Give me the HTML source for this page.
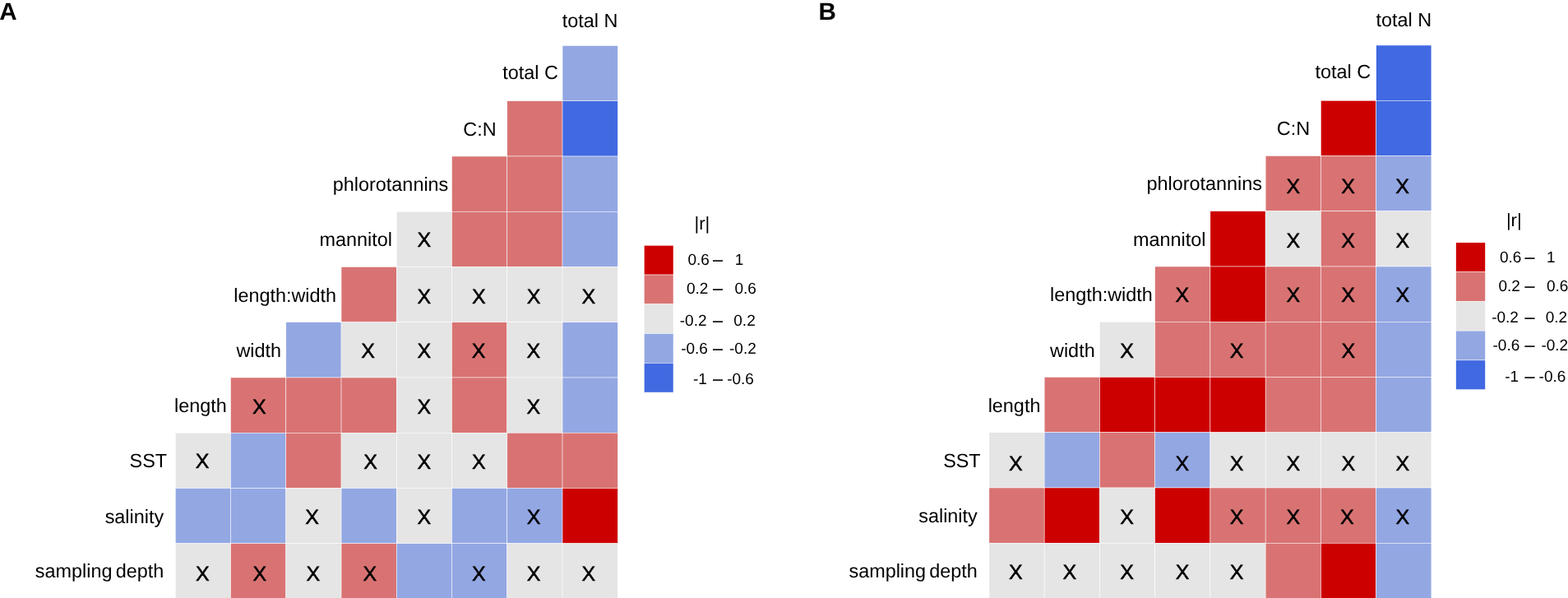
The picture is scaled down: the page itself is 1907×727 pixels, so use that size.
<!DOCTYPE html>
<html><head><meta charset="utf-8"><title>Correlation heatmaps</title>
<style>
html,body{margin:0;padding:0;background:#fff;overflow:hidden;}
body{width:1907px;height:727px;}
svg{display:block;}
text{font-family:"Liberation Sans",Arial,Helvetica,sans-serif;text-rendering:geometricPrecision;}
</style></head><body>
<svg width="1907" height="727" viewBox="0 0 1907 727">
<rect width="1907" height="727" fill="#fff"/>
<g font-family="Liberation Sans, Arial, Helvetica, sans-serif" fill="#000">
<g>
<rect x="684.05" y="55.5" width="67.25" height="67.25" fill="#93A7E3" stroke="#fff" stroke-width="0.5"/>
<rect x="616.8" y="122.75" width="67.25" height="67.25" fill="#D97373" stroke="#fff" stroke-width="0.5"/>
<rect x="684.05" y="122.75" width="67.25" height="67.25" fill="#4169E1" stroke="#fff" stroke-width="0.5"/>
<rect x="549.55" y="190" width="67.25" height="67.25" fill="#D97373" stroke="#fff" stroke-width="0.5"/>
<rect x="616.8" y="190" width="67.25" height="67.25" fill="#D97373" stroke="#fff" stroke-width="0.5"/>
<rect x="684.05" y="190" width="67.25" height="67.25" fill="#93A7E3" stroke="#fff" stroke-width="0.5"/>
<rect x="482.3" y="257.25" width="67.25" height="67.25" fill="#E5E5E5" stroke="#fff" stroke-width="0.5"/>
<rect x="549.55" y="257.25" width="67.25" height="67.25" fill="#D97373" stroke="#fff" stroke-width="0.5"/>
<rect x="616.8" y="257.25" width="67.25" height="67.25" fill="#D97373" stroke="#fff" stroke-width="0.5"/>
<rect x="684.05" y="257.25" width="67.25" height="67.25" fill="#93A7E3" stroke="#fff" stroke-width="0.5"/>
<rect x="415.05" y="324.5" width="67.25" height="67.25" fill="#D97373" stroke="#fff" stroke-width="0.5"/>
<rect x="482.3" y="324.5" width="67.25" height="67.25" fill="#E5E5E5" stroke="#fff" stroke-width="0.5"/>
<rect x="549.55" y="324.5" width="67.25" height="67.25" fill="#E5E5E5" stroke="#fff" stroke-width="0.5"/>
<rect x="616.8" y="324.5" width="67.25" height="67.25" fill="#E5E5E5" stroke="#fff" stroke-width="0.5"/>
<rect x="684.05" y="324.5" width="67.25" height="67.25" fill="#E5E5E5" stroke="#fff" stroke-width="0.5"/>
<rect x="347.8" y="391.75" width="67.25" height="67.25" fill="#93A7E3" stroke="#fff" stroke-width="0.5"/>
<rect x="415.05" y="391.75" width="67.25" height="67.25" fill="#E5E5E5" stroke="#fff" stroke-width="0.5"/>
<rect x="482.3" y="391.75" width="67.25" height="67.25" fill="#E5E5E5" stroke="#fff" stroke-width="0.5"/>
<rect x="549.55" y="391.75" width="67.25" height="67.25" fill="#D97373" stroke="#fff" stroke-width="0.5"/>
<rect x="616.8" y="391.75" width="67.25" height="67.25" fill="#E5E5E5" stroke="#fff" stroke-width="0.5"/>
<rect x="684.05" y="391.75" width="67.25" height="67.25" fill="#93A7E3" stroke="#fff" stroke-width="0.5"/>
<rect x="280.55" y="459" width="67.25" height="67.25" fill="#D97373" stroke="#fff" stroke-width="0.5"/>
<rect x="347.8" y="459" width="67.25" height="67.25" fill="#D97373" stroke="#fff" stroke-width="0.5"/>
<rect x="415.05" y="459" width="67.25" height="67.25" fill="#D97373" stroke="#fff" stroke-width="0.5"/>
<rect x="482.3" y="459" width="67.25" height="67.25" fill="#E5E5E5" stroke="#fff" stroke-width="0.5"/>
<rect x="549.55" y="459" width="67.25" height="67.25" fill="#D97373" stroke="#fff" stroke-width="0.5"/>
<rect x="616.8" y="459" width="67.25" height="67.25" fill="#E5E5E5" stroke="#fff" stroke-width="0.5"/>
<rect x="684.05" y="459" width="67.25" height="67.25" fill="#93A7E3" stroke="#fff" stroke-width="0.5"/>
<rect x="213.3" y="526.25" width="67.25" height="67.25" fill="#E5E5E5" stroke="#fff" stroke-width="0.5"/>
<rect x="280.55" y="526.25" width="67.25" height="67.25" fill="#93A7E3" stroke="#fff" stroke-width="0.5"/>
<rect x="347.8" y="526.25" width="67.25" height="67.25" fill="#D97373" stroke="#fff" stroke-width="0.5"/>
<rect x="415.05" y="526.25" width="67.25" height="67.25" fill="#E5E5E5" stroke="#fff" stroke-width="0.5"/>
<rect x="482.3" y="526.25" width="67.25" height="67.25" fill="#E5E5E5" stroke="#fff" stroke-width="0.5"/>
<rect x="549.55" y="526.25" width="67.25" height="67.25" fill="#E5E5E5" stroke="#fff" stroke-width="0.5"/>
<rect x="616.8" y="526.25" width="67.25" height="67.25" fill="#D97373" stroke="#fff" stroke-width="0.5"/>
<rect x="684.05" y="526.25" width="67.25" height="67.25" fill="#D97373" stroke="#fff" stroke-width="0.5"/>
<rect x="213.3" y="593.5" width="67.25" height="67.25" fill="#93A7E3" stroke="#fff" stroke-width="0.5"/>
<rect x="280.55" y="593.5" width="67.25" height="67.25" fill="#93A7E3" stroke="#fff" stroke-width="0.5"/>
<rect x="347.8" y="593.5" width="67.25" height="67.25" fill="#E5E5E5" stroke="#fff" stroke-width="0.5"/>
<rect x="415.05" y="593.5" width="67.25" height="67.25" fill="#93A7E3" stroke="#fff" stroke-width="0.5"/>
<rect x="482.3" y="593.5" width="67.25" height="67.25" fill="#E5E5E5" stroke="#fff" stroke-width="0.5"/>
<rect x="549.55" y="593.5" width="67.25" height="67.25" fill="#93A7E3" stroke="#fff" stroke-width="0.5"/>
<rect x="616.8" y="593.5" width="67.25" height="67.25" fill="#93A7E3" stroke="#fff" stroke-width="0.5"/>
<rect x="684.05" y="593.5" width="67.25" height="67.25" fill="#CD0000" stroke="#fff" stroke-width="0.5"/>
<rect x="213.3" y="660.75" width="67.25" height="67.25" fill="#E5E5E5" stroke="#fff" stroke-width="0.5"/>
<rect x="280.55" y="660.75" width="67.25" height="67.25" fill="#D97373" stroke="#fff" stroke-width="0.5"/>
<rect x="347.8" y="660.75" width="67.25" height="67.25" fill="#E5E5E5" stroke="#fff" stroke-width="0.5"/>
<rect x="415.05" y="660.75" width="67.25" height="67.25" fill="#D97373" stroke="#fff" stroke-width="0.5"/>
<rect x="482.3" y="660.75" width="67.25" height="67.25" fill="#93A7E3" stroke="#fff" stroke-width="0.5"/>
<rect x="549.55" y="660.75" width="67.25" height="67.25" fill="#93A7E3" stroke="#fff" stroke-width="0.5"/>
<rect x="616.8" y="660.75" width="67.25" height="67.25" fill="#E5E5E5" stroke="#fff" stroke-width="0.5"/>
<rect x="684.05" y="660.75" width="67.25" height="67.25" fill="#E5E5E5" stroke="#fff" stroke-width="0.5"/>
</g>
<g font-size="25" text-anchor="middle" stroke="#000" stroke-width="0.5">
<text x="515.85" y="300.3">X</text>
<text x="515.85" y="368.8">X</text>
<text x="582.45" y="368.8">X</text>
<text x="649.05" y="368.8">X</text>
<text x="715.85" y="368.8">X</text>
<text x="447.5" y="435.45">X</text>
<text x="515.9" y="435.35">X</text>
<text x="582.2" y="435.35">X</text>
<text x="648.85" y="435.35">X</text>
<text x="315.3" y="502.9">X</text>
<text x="515.9" y="502.95">X</text>
<text x="648.85" y="502.95">X</text>
<text x="246.15" y="569.3">X</text>
<text x="450.7" y="569.5">X</text>
<text x="515.75" y="569.5">X</text>
<text x="582.3" y="569.5">X</text>
<text x="379.6" y="636.85">X</text>
<text x="515.85" y="636.9">X</text>
<text x="649.05" y="636.9">X</text>
<text x="246.35" y="706.1">X</text>
<text x="315.85" y="706.1">X</text>
<text x="380.9" y="706.3">X</text>
<text x="449.85" y="706.3">X</text>
<text x="582.3" y="706.3">X</text>
<text x="649" y="706.25">X</text>
<text x="715.85" y="706.25">X</text>
</g>
<g font-size="23.4" text-anchor="end">
<text x="751.45" y="32.9">total N</text>
<text x="678.8" y="95.7">total C</text>
<text x="603.55" y="164.75">C:N</text>
<text x="545.3" y="231.9">phlorotannins</text>
<text x="476.9" y="299.4">mannitol</text>
<text x="409.05" y="366.6">length:width</text>
<text x="342.05" y="434">width</text>
<text x="275.8" y="501">length</text>
<text x="203.05" y="568.1">SST</text>
<text x="199.15" y="635.8">salinity</text>
<text x="199.3" y="702.2" word-spacing="-2.2">sampling depth</text>
</g>
<text x="-0.8" y="23.7" font-size="29.6" font-weight="bold">A</text>
<rect x="783.3" y="298.3" width="35.7" height="35.75" fill="#CD0000" stroke="#fff" stroke-width="0.5"/>
<rect x="783.3" y="334.05" width="35.7" height="35.75" fill="#D97373" stroke="#fff" stroke-width="0.5"/>
<rect x="783.3" y="369.8" width="35.7" height="35.75" fill="#E5E5E5" stroke="#fff" stroke-width="0.5"/>
<rect x="783.3" y="405.55" width="35.7" height="35.75" fill="#93A7E3" stroke="#fff" stroke-width="0.5"/>
<rect x="783.3" y="441.3" width="35.7" height="35.75" fill="#4169E1" stroke="#fff" stroke-width="0.5"/>
<text x="844.5" y="278.5" font-size="22">|r|</text>
<g font-size="19">
<text x="862.9" y="321.9" text-anchor="end">0.6</text>
<text x="867.3" y="321.9" textLength="11.4" lengthAdjust="spacingAndGlyphs" stroke="#000" stroke-width="0.5">&#8211;</text>
<text x="893.7" y="321.9">1</text>
<text x="861.4" y="357" text-anchor="end">0.2</text>
<text x="867.3" y="357" textLength="11.4" lengthAdjust="spacingAndGlyphs" stroke="#000" stroke-width="0.5">&#8211;</text>
<text x="893.5" y="357">0.6</text>
<text x="859.5" y="395.6" text-anchor="end">-0.2</text>
<text x="867.3" y="395.6" textLength="11.4" lengthAdjust="spacingAndGlyphs" stroke="#000" stroke-width="0.5">&#8211;</text>
<text x="892.3" y="395.6">0.2</text>
<text x="860.9" y="429.7" text-anchor="end">-0.6</text>
<text x="867.3" y="429.7" textLength="11.4" lengthAdjust="spacingAndGlyphs" stroke="#000" stroke-width="0.5">&#8211;</text>
<text x="887" y="429.7">-0.2</text>
<text x="859.8" y="467.4" text-anchor="end">-1</text>
<text x="867.3" y="467.4" textLength="11.4" lengthAdjust="spacingAndGlyphs" stroke="#000" stroke-width="0.5">&#8211;</text>
<text x="884.2" y="467.4">-0.6</text>
</g>
<g>
<rect x="1673.65" y="55" width="67.25" height="67.25" fill="#4169E1" stroke="#fff" stroke-width="0.5"/>
<rect x="1606.4" y="122.25" width="67.25" height="67.25" fill="#CD0000" stroke="#fff" stroke-width="0.5"/>
<rect x="1673.65" y="122.25" width="67.25" height="67.25" fill="#4169E1" stroke="#fff" stroke-width="0.5"/>
<rect x="1539.15" y="189.5" width="67.25" height="67.25" fill="#D97373" stroke="#fff" stroke-width="0.5"/>
<rect x="1606.4" y="189.5" width="67.25" height="67.25" fill="#D97373" stroke="#fff" stroke-width="0.5"/>
<rect x="1673.65" y="189.5" width="67.25" height="67.25" fill="#93A7E3" stroke="#fff" stroke-width="0.5"/>
<rect x="1471.9" y="256.75" width="67.25" height="67.25" fill="#CD0000" stroke="#fff" stroke-width="0.5"/>
<rect x="1539.15" y="256.75" width="67.25" height="67.25" fill="#E5E5E5" stroke="#fff" stroke-width="0.5"/>
<rect x="1606.4" y="256.75" width="67.25" height="67.25" fill="#D97373" stroke="#fff" stroke-width="0.5"/>
<rect x="1673.65" y="256.75" width="67.25" height="67.25" fill="#E5E5E5" stroke="#fff" stroke-width="0.5"/>
<rect x="1404.65" y="324" width="67.25" height="67.25" fill="#D97373" stroke="#fff" stroke-width="0.5"/>
<rect x="1471.9" y="324" width="67.25" height="67.25" fill="#CD0000" stroke="#fff" stroke-width="0.5"/>
<rect x="1539.15" y="324" width="67.25" height="67.25" fill="#D97373" stroke="#fff" stroke-width="0.5"/>
<rect x="1606.4" y="324" width="67.25" height="67.25" fill="#D97373" stroke="#fff" stroke-width="0.5"/>
<rect x="1673.65" y="324" width="67.25" height="67.25" fill="#93A7E3" stroke="#fff" stroke-width="0.5"/>
<rect x="1337.4" y="391.25" width="67.25" height="67.25" fill="#E5E5E5" stroke="#fff" stroke-width="0.5"/>
<rect x="1404.65" y="391.25" width="67.25" height="67.25" fill="#D97373" stroke="#fff" stroke-width="0.5"/>
<rect x="1471.9" y="391.25" width="67.25" height="67.25" fill="#D97373" stroke="#fff" stroke-width="0.5"/>
<rect x="1539.15" y="391.25" width="67.25" height="67.25" fill="#D97373" stroke="#fff" stroke-width="0.5"/>
<rect x="1606.4" y="391.25" width="67.25" height="67.25" fill="#D97373" stroke="#fff" stroke-width="0.5"/>
<rect x="1673.65" y="391.25" width="67.25" height="67.25" fill="#93A7E3" stroke="#fff" stroke-width="0.5"/>
<rect x="1270.15" y="458.5" width="67.25" height="67.25" fill="#D97373" stroke="#fff" stroke-width="0.5"/>
<rect x="1337.4" y="458.5" width="67.25" height="67.25" fill="#CD0000" stroke="#fff" stroke-width="0.5"/>
<rect x="1404.65" y="458.5" width="67.25" height="67.25" fill="#CD0000" stroke="#fff" stroke-width="0.5"/>
<rect x="1471.9" y="458.5" width="67.25" height="67.25" fill="#CD0000" stroke="#fff" stroke-width="0.5"/>
<rect x="1539.15" y="458.5" width="67.25" height="67.25" fill="#D97373" stroke="#fff" stroke-width="0.5"/>
<rect x="1606.4" y="458.5" width="67.25" height="67.25" fill="#D97373" stroke="#fff" stroke-width="0.5"/>
<rect x="1673.65" y="458.5" width="67.25" height="67.25" fill="#93A7E3" stroke="#fff" stroke-width="0.5"/>
<rect x="1202.9" y="525.75" width="67.25" height="67.25" fill="#E5E5E5" stroke="#fff" stroke-width="0.5"/>
<rect x="1270.15" y="525.75" width="67.25" height="67.25" fill="#93A7E3" stroke="#fff" stroke-width="0.5"/>
<rect x="1337.4" y="525.75" width="67.25" height="67.25" fill="#D97373" stroke="#fff" stroke-width="0.5"/>
<rect x="1404.65" y="525.75" width="67.25" height="67.25" fill="#93A7E3" stroke="#fff" stroke-width="0.5"/>
<rect x="1471.9" y="525.75" width="67.25" height="67.25" fill="#E5E5E5" stroke="#fff" stroke-width="0.5"/>
<rect x="1539.15" y="525.75" width="67.25" height="67.25" fill="#E5E5E5" stroke="#fff" stroke-width="0.5"/>
<rect x="1606.4" y="525.75" width="67.25" height="67.25" fill="#E5E5E5" stroke="#fff" stroke-width="0.5"/>
<rect x="1673.65" y="525.75" width="67.25" height="67.25" fill="#E5E5E5" stroke="#fff" stroke-width="0.5"/>
<rect x="1202.9" y="593" width="67.25" height="67.25" fill="#D97373" stroke="#fff" stroke-width="0.5"/>
<rect x="1270.15" y="593" width="67.25" height="67.25" fill="#CD0000" stroke="#fff" stroke-width="0.5"/>
<rect x="1337.4" y="593" width="67.25" height="67.25" fill="#E5E5E5" stroke="#fff" stroke-width="0.5"/>
<rect x="1404.65" y="593" width="67.25" height="67.25" fill="#CD0000" stroke="#fff" stroke-width="0.5"/>
<rect x="1471.9" y="593" width="67.25" height="67.25" fill="#D97373" stroke="#fff" stroke-width="0.5"/>
<rect x="1539.15" y="593" width="67.25" height="67.25" fill="#D97373" stroke="#fff" stroke-width="0.5"/>
<rect x="1606.4" y="593" width="67.25" height="67.25" fill="#D97373" stroke="#fff" stroke-width="0.5"/>
<rect x="1673.65" y="593" width="67.25" height="67.25" fill="#93A7E3" stroke="#fff" stroke-width="0.5"/>
<rect x="1202.9" y="660.25" width="67.25" height="67.25" fill="#E5E5E5" stroke="#fff" stroke-width="0.5"/>
<rect x="1270.15" y="660.25" width="67.25" height="67.25" fill="#E5E5E5" stroke="#fff" stroke-width="0.5"/>
<rect x="1337.4" y="660.25" width="67.25" height="67.25" fill="#E5E5E5" stroke="#fff" stroke-width="0.5"/>
<rect x="1404.65" y="660.25" width="67.25" height="67.25" fill="#E5E5E5" stroke="#fff" stroke-width="0.5"/>
<rect x="1471.9" y="660.25" width="67.25" height="67.25" fill="#E5E5E5" stroke="#fff" stroke-width="0.5"/>
<rect x="1539.15" y="660.25" width="67.25" height="67.25" fill="#D97373" stroke="#fff" stroke-width="0.5"/>
<rect x="1606.4" y="660.25" width="67.25" height="67.25" fill="#CD0000" stroke="#fff" stroke-width="0.5"/>
<rect x="1673.65" y="660.25" width="67.25" height="67.25" fill="#93A7E3" stroke="#fff" stroke-width="0.5"/>
</g>
<g font-size="25" text-anchor="middle" stroke="#000" stroke-width="0.5">
<text x="1572.8" y="234.5">X</text>
<text x="1639.65" y="234.5">X</text>
<text x="1705.5" y="234.5">X</text>
<text x="1572.9" y="300.5">X</text>
<text x="1639.7" y="300.5">X</text>
<text x="1705.8" y="300.5">X</text>
<text x="1437.95" y="367.35">X</text>
<text x="1572.9" y="367.4">X</text>
<text x="1639.7" y="367.4">X</text>
<text x="1705.8" y="367.4">X</text>
<text x="1370.65" y="434.85">X</text>
<text x="1504.15" y="434.85">X</text>
<text x="1639.85" y="434.7">X</text>
<text x="1235.25" y="571.6">X</text>
<text x="1437.9" y="571.6">X</text>
<text x="1504.15" y="571.6">X</text>
<text x="1572.75" y="571.6">X</text>
<text x="1639.8" y="571.6">X</text>
<text x="1705.85" y="571.6">X</text>
<text x="1370.5" y="636.95">X</text>
<text x="1504.15" y="637">X</text>
<text x="1572.75" y="637">X</text>
<text x="1638.4" y="637">X</text>
<text x="1705.85" y="637">X</text>
<text x="1235.3" y="704.15">X</text>
<text x="1300.95" y="704.15">X</text>
<text x="1370.5" y="704.15">X</text>
<text x="1438.05" y="704.15">X</text>
<text x="1504.1" y="704.15">X</text>
</g>
<g font-size="23.4" text-anchor="end">
<text x="1741.05" y="32.4">total N</text>
<text x="1667.2" y="95.2">total C</text>
<text x="1593.15" y="164.25">C:N</text>
<text x="1534.9" y="231.4">phlorotannins</text>
<text x="1466.5" y="298.9">mannitol</text>
<text x="1401.85" y="366.1">length:width</text>
<text x="1331.65" y="433.5">width</text>
<text x="1265.4" y="500.5">length</text>
<text x="1192.65" y="567.6">SST</text>
<text x="1188.75" y="635.3">salinity</text>
<text x="1188.9" y="701.7" word-spacing="-2.2">sampling depth</text>
</g>
<text x="995.6" y="23.7" font-size="29.6" font-weight="bold">B</text>
<rect x="1770.7" y="294.9" width="35.7" height="35.75" fill="#CD0000" stroke="#fff" stroke-width="0.5"/>
<rect x="1770.7" y="330.65" width="35.7" height="35.75" fill="#D97373" stroke="#fff" stroke-width="0.5"/>
<rect x="1770.7" y="366.4" width="35.7" height="35.75" fill="#E5E5E5" stroke="#fff" stroke-width="0.5"/>
<rect x="1770.7" y="402.15" width="35.7" height="35.75" fill="#93A7E3" stroke="#fff" stroke-width="0.5"/>
<rect x="1770.7" y="437.9" width="35.7" height="35.75" fill="#4169E1" stroke="#fff" stroke-width="0.5"/>
<text x="1831.9" y="275.1" font-size="22">|r|</text>
<g font-size="19">
<text x="1850.3" y="318.5" text-anchor="end">0.6</text>
<text x="1854.7" y="318.5" textLength="11.4" lengthAdjust="spacingAndGlyphs" stroke="#000" stroke-width="0.5">&#8211;</text>
<text x="1881.1" y="318.5">1</text>
<text x="1848.8" y="353.6" text-anchor="end">0.2</text>
<text x="1854.7" y="353.6" textLength="11.4" lengthAdjust="spacingAndGlyphs" stroke="#000" stroke-width="0.5">&#8211;</text>
<text x="1880.9" y="353.6">0.6</text>
<text x="1846.9" y="392.2" text-anchor="end">-0.2</text>
<text x="1854.7" y="392.2" textLength="11.4" lengthAdjust="spacingAndGlyphs" stroke="#000" stroke-width="0.5">&#8211;</text>
<text x="1879.7" y="392.2">0.2</text>
<text x="1848.3" y="426.3" text-anchor="end">-0.6</text>
<text x="1854.7" y="426.3" textLength="11.4" lengthAdjust="spacingAndGlyphs" stroke="#000" stroke-width="0.5">&#8211;</text>
<text x="1874.4" y="426.3">-0.2</text>
<text x="1847.2" y="464" text-anchor="end">-1</text>
<text x="1854.7" y="464" textLength="11.4" lengthAdjust="spacingAndGlyphs" stroke="#000" stroke-width="0.5">&#8211;</text>
<text x="1871.6" y="464">-0.6</text>
</g>
</g></svg>
</body></html>
